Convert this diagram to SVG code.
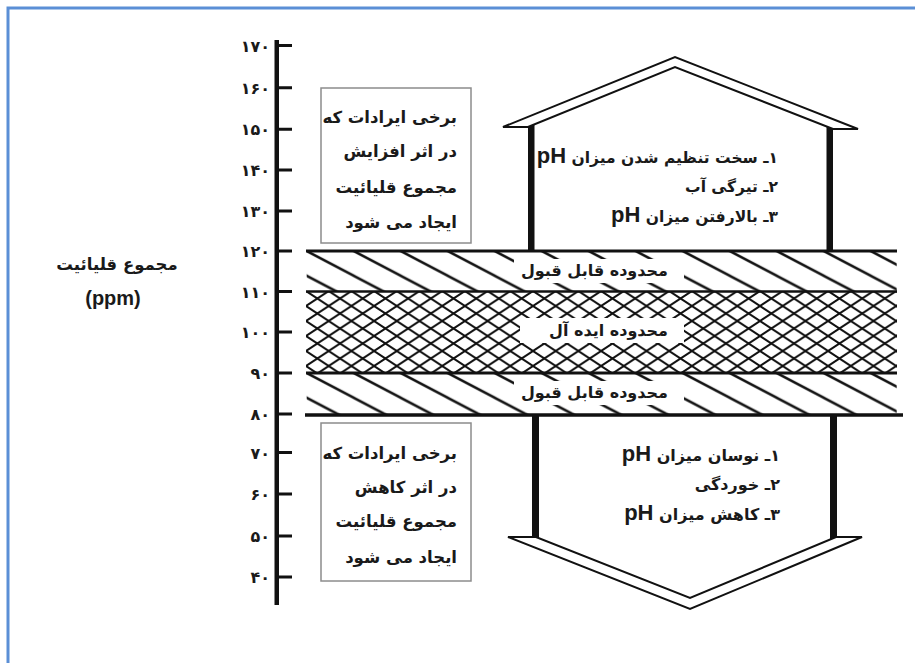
<svg xmlns="http://www.w3.org/2000/svg" width="915" height="663" viewBox="0 0 915 663">
<style>
.fa{font-family:'DejaVu Sans','Noto Sans',sans-serif;font-weight:bold;fill:#1a1a1a}
.tick{font-size:16px;text-anchor:end;letter-spacing:1px}
.rtl{direction:rtl;text-anchor:start}
.ph{font-family:'Liberation Sans',Arial,sans-serif;font-weight:bold;font-size:22px}
.box{fill:#fff;stroke:#8c8c8c;stroke-width:1.5}
.blk{fill:#111}
.edge{stroke:#111;fill:none}
.roof{fill:#fff;stroke:#111;stroke-width:2;stroke-linejoin:miter}
</style>
<defs>
<pattern id="hatchTop" patternUnits="userSpaceOnUse" x="306.7" y="251" width="47" height="24.74">
<path d="M-23.5,-12.37 L70.5,37.11 M0,-24.74 L94,24.74 M-47,0 L47,49.48" stroke="#111" stroke-width="2.5"/>
</pattern>
<pattern id="hatchBot" patternUnits="userSpaceOnUse" x="306.7" y="373" width="47" height="24.74">
<path d="M-23.5,-12.37 L70.5,37.11 M0,-24.74 L94,24.74 M-47,0 L47,49.48" stroke="#111" stroke-width="2.5"/>
</pattern>
<pattern id="mesh" patternUnits="userSpaceOnUse" x="306" y="291" width="22.7" height="15">
<path d="M-11.35,-7.5 L34.05,22.5 M-11.35,22.5 L34.05,-7.5 M-22.7,0 L22.7,30 M0,-15 L45.4,15 M-22.7,15 L22.7,-15 M0,30 L45.4,0" stroke="#111" stroke-width="2"/>
</pattern>
</defs>
<rect x="0" y="0" width="915" height="663" fill="#fff"/>
<path d="M8,663 V8 H915" fill="none" stroke="#5b8fd6" stroke-width="3"/>

<g id="axis-label">
<text class="fa" x="117" y="270" font-size="16.5" text-anchor="middle">مجموع قلیائیت</text>
<text x="113" y="305" font-family="'Liberation Sans',Arial,sans-serif" font-weight="bold" font-size="20" fill="#1a1a1a" text-anchor="middle">(ppm)</text>
</g>

<g id="axis">
<rect x="274.5" y="40" width="4.5" height="565" class="blk"/>
<path class="edge" stroke-width="3" d="M278,45.5 H292 M278,87.7 H292 M278,129.3 H292 M278,170 H292 M278,211 H292 M278,251 H292 M278,291.5 H292 M278,332 H292 M278,373 H292 M278,414 H292 M278,452.5 H292 M278,494 H292 M278,536 H292 M278,577 H292"/>
<g class="fa tick">
<text x="270" y="51.5">۱۷۰</text>
<text x="270" y="93.7">۱۶۰</text>
<text x="270" y="135.3">۱۵۰</text>
<text x="270" y="176">۱۴۰</text>
<text x="270" y="217">۱۳۰</text>
<text x="270" y="257">۱۲۰</text>
<text x="270" y="297.5">۱۱۰</text>
<text x="270" y="338">۱۰۰</text>
<text x="270" y="379">۹۰</text>
<text x="270" y="420">۸۰</text>
<text x="270" y="458.5">۷۰</text>
<text x="270" y="500">۶۰</text>
<text x="270" y="542">۵۰</text>
<text x="270" y="583">۴۰</text>
</g>
</g>

<g id="box-increase">
<rect class="box" x="321" y="88" width="150" height="155"/>
<g class="fa rtl" font-size="16.5">
<text x="457" y="123">برخی ایرادات که</text>
<text x="457" y="157">در اثر افزایش</text>
<text x="457" y="193">مجموع قلیائیت</text>
<text x="457" y="228">ایجاد می شود</text>
</g>
</g>

<g id="box-decrease">
<rect class="box" x="321" y="423" width="150" height="158"/>
<g class="fa rtl" font-size="16.5">
<text x="457" y="459">برخی ایرادات که</text>
<text x="457" y="493">در اثر کاهش</text>
<text x="457" y="527">مجموع قلیائیت</text>
<text x="457" y="563">ایجاد می شود</text>
</g>
</g>

<g id="band-acceptable-top">
<rect x="306.7" y="251" width="590" height="40" fill="url(#hatchTop)"/>
<rect x="514" y="259" width="170" height="24" fill="#fff"/>
<text class="fa rtl" x="668" y="276" font-size="16">محدوده قابل قبول</text>
</g>

<g id="band-ideal">
<rect x="306" y="291" width="591" height="82" fill="url(#mesh)"/>
<rect x="520" y="318" width="164" height="25" fill="#fff"/>
<text class="fa rtl" x="668" y="336" font-size="16">محدوده ایده آل</text>
</g>

<g id="band-acceptable-bottom">
<rect x="306.7" y="373" width="590" height="42" fill="url(#hatchBot)"/>
<rect x="514" y="381" width="170" height="24" fill="#fff"/>
<text class="fa rtl" x="668" y="398" font-size="16">محدوده قابل قبول</text>
</g>

<g id="band-lines">
<path class="edge" stroke-width="3" d="M306,251 H897"/>
<path class="edge" stroke-width="2.6" d="M306,291.5 H897"/>
<path class="edge" stroke-width="3" d="M306,373 H897"/>
<path class="edge" stroke-width="3.5" d="M305,415 H903"/>
</g>

<g id="arrow-up">
<rect class="blk" x="528" y="125" width="6.5" height="126"/>
<rect class="blk" x="826.5" y="125" width="6.5" height="126"/>
<polygon class="roof" points="503,127 675,57 858,129 833,129 675,67 528,127"/>
<g class="fa rtl" font-size="15.5">
<text x="778" y="163">۱ـ سخت تنظیم شدن میزان <tspan class="ph">pH</tspan></text>
<text x="778" y="192">۲ـ تیرگی آب</text>
<text x="778" y="222">۳ـ بالارفتن میزان <tspan class="ph">pH</tspan></text>
</g>
</g>

<g id="arrow-down">
<rect class="blk" x="532" y="415" width="7" height="124"/>
<rect class="blk" x="830" y="415" width="7" height="124"/>
<polygon class="roof" points="508,537 690,609 862,537 836,537 690,598 536,537"/>
<g class="fa rtl" font-size="16">
<text x="780" y="461">۱ـ نوسان میزان <tspan class="ph">pH</tspan></text>
<text x="780" y="490">۲ـ خوردگی</text>
<text x="780" y="520">۳ـ کاهش میزان <tspan class="ph">pH</tspan></text>
</g>
</g>
</svg>
